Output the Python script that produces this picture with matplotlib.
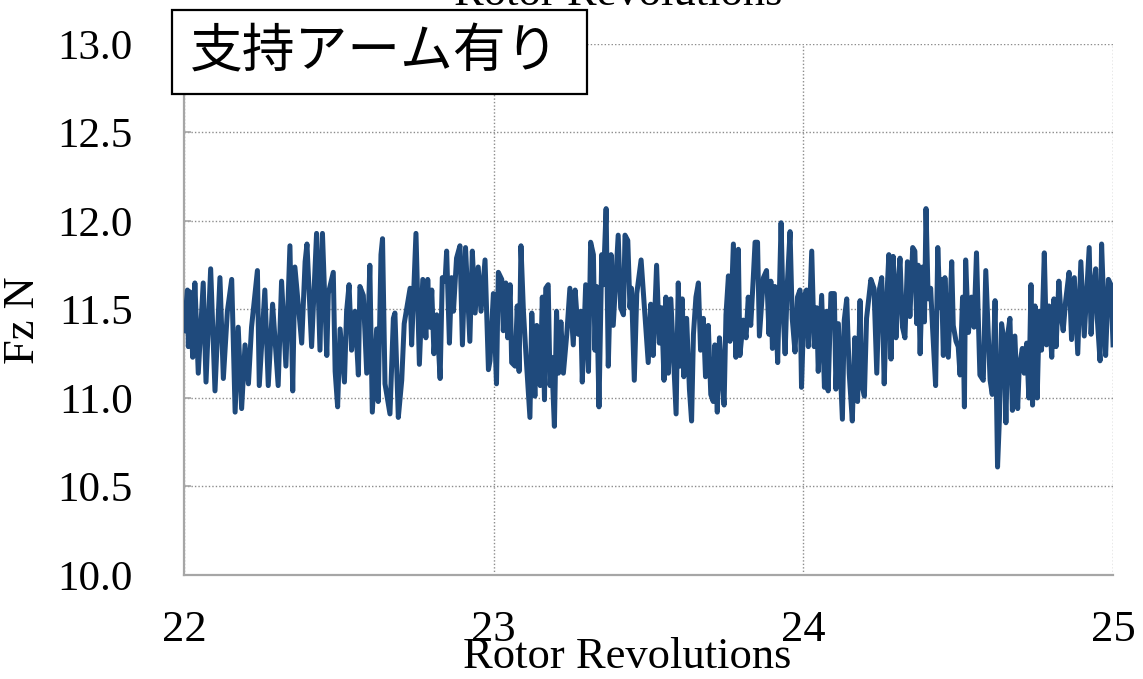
import numpy as np
import matplotlib
matplotlib.use("Agg")
import matplotlib.pyplot as plt
from matplotlib.patches import Rectangle

plt.rcParams['font.family'] = ['Liberation Serif', 'DejaVu Serif']

# Fz trace, split per revolution (rev, Fz [N])
rev_a = [22.000, 22.011, 22.014, 22.019, 22.028, 22.035, 22.046, 22.062, 22.071, 22.086,
         22.100, 22.116, 22.127, 22.140, 22.154, 22.165, 22.175, 22.186, 22.197, 22.208,
         22.218, 22.237, 22.243, 22.261, 22.272, 22.286, 22.304, 22.315, 22.329, 22.342,
         22.351, 22.358, 22.380, 22.391, 22.397, 22.412, 22.428, 22.439, 22.447, 22.461,
         22.466, 22.482, 22.488, 22.496, 22.504, 22.518, 22.525, 22.533, 22.541, 22.552,
         22.563, 22.568, 22.579, 22.590, 22.600, 22.608, 22.622, 22.627, 22.636, 22.641,
         22.649, 22.665, 22.676, 22.681, 22.692, 22.703, 22.711, 22.730, 22.735, 22.749,
         22.760, 22.771, 22.781, 22.787, 22.794, 22.800, 22.807, 22.816, 22.827, 22.834,
         22.843, 22.848, 22.857, 22.864, 22.870, 22.880, 22.891, 22.899, 22.909, 22.923,
         22.931, 22.940, 22.950, 22.959, 22.972, 22.983, 22.988, 22.999]
fz_a = [11.38, 11.61, 11.29, 11.60, 11.23, 11.65, 11.14, 11.65, 11.09, 11.73,
        11.04, 11.68, 11.11, 11.49, 11.67, 10.92, 11.40, 10.94, 11.30, 11.08,
        11.40, 11.72, 11.07, 11.61, 11.07, 11.53, 11.07, 11.66, 11.18, 11.86,
        11.04, 11.74, 11.31, 11.77, 11.87, 11.29, 11.93, 11.27, 11.93, 11.24,
        11.59, 11.71, 11.15, 10.95, 11.39, 11.09, 11.49, 11.64, 11.27, 11.49,
        11.13, 11.63, 11.58, 11.14, 11.75, 10.92, 11.39, 10.98, 11.81, 11.90,
        11.08, 10.91, 11.45, 11.48, 10.89, 11.10, 11.42, 11.62, 11.30, 11.93,
        11.19, 11.67, 11.34, 11.67, 11.40, 11.61, 11.25, 11.47, 11.11, 11.68,
        11.66, 11.83, 11.31, 11.68, 11.49, 11.79, 11.86, 11.30, 11.85, 11.32,
        11.83, 11.48, 11.74, 11.49, 11.78, 11.16, 11.21, 11.59]

rev_b = [23.009, 23.015, 23.026, 23.031, 23.039, 23.045, 23.053, 23.058, 23.069, 23.076,
         23.082, 23.088, 23.096, 23.104, 23.117, 23.123, 23.133, 23.139, 23.150, 23.157,
         23.164, 23.168, 23.176, 23.182, 23.187, 23.196, 23.203, 23.209, 23.217, 23.225,
         23.236, 23.246, 23.257, 23.263, 23.273, 23.281, 23.286, 23.297, 23.306, 23.313,
         23.322, 23.327, 23.332, 23.340, 23.349, 23.354, 23.363, 23.370, 23.379, 23.386,
         23.394, 23.402, 23.410, 23.419, 23.424, 23.433, 23.440, 23.445, 23.454, 23.462,
         23.476, 23.499, 23.507, 23.515, 23.526, 23.535, 23.542, 23.550, 23.556, 23.564,
         23.572, 23.580, 23.589, 23.596, 23.602, 23.609, 23.614, 23.623, 23.632, 23.639,
         23.645, 23.653, 23.661, 23.668, 23.677, 23.684, 23.693, 23.701, 23.709, 23.714,
         23.722, 23.729, 23.736, 23.744, 23.750, 23.758, 23.763, 23.774, 23.782, 23.790,
         23.795, 23.806, 23.815, 23.822, 23.830, 23.838, 23.844, 23.852, 23.858, 23.871,
         23.881, 23.889, 23.895, 23.900, 23.908, 23.917, 23.928, 23.935, 23.941, 23.948,
         23.957, 23.964, 23.973, 23.981, 23.989, 23.994]
fz_b = [11.08, 11.71, 11.67, 11.38, 11.65, 11.34, 11.64, 11.20, 11.18, 11.52,
        11.15, 11.86, 11.49, 11.25, 10.89, 11.48, 11.01, 11.41, 11.07, 11.57,
        10.99, 11.62, 11.64, 11.07, 11.23, 10.84, 11.49, 11.14, 11.43, 11.14,
        11.36, 11.62, 11.30, 11.61, 11.36, 11.49, 11.09, 11.64, 11.15, 11.88,
        11.81, 11.27, 11.63, 10.95, 11.81, 11.64, 12.07, 11.18, 11.81, 11.41,
        11.66, 11.92, 11.51, 11.47, 11.92, 11.89, 11.51, 11.62, 11.10, 11.59,
        11.78, 11.20, 11.53, 11.24, 11.75, 11.31, 11.51, 11.10, 11.57, 11.14,
        11.56, 11.25, 10.91, 11.65, 11.18, 11.56, 11.12, 11.45, 11.05, 10.87,
        11.36, 11.57, 11.65, 11.27, 11.45, 11.12, 11.41, 11.02, 10.98, 11.30,
        10.92, 11.34, 11.14, 10.96, 11.47, 11.69, 11.32, 11.87, 11.23, 11.84,
        11.24, 11.44, 11.34, 11.57, 11.41, 11.67, 11.88, 11.88, 11.35, 11.68,
        11.72, 11.36, 11.66, 11.28, 11.63, 11.20, 11.99, 11.47, 11.25, 11.64,
        11.94, 11.45, 11.26, 11.57, 11.61, 11.06]

rev_c = [24.003, 24.010, 24.016, 24.027, 24.035, 24.043, 24.048, 24.059, 24.068, 24.075,
         24.080, 24.089, 24.100, 24.105, 24.113, 24.126, 24.132, 24.140, 24.148, 24.158,
         24.166, 24.175, 24.183, 24.188, 24.197, 24.204, 24.218, 24.228, 24.237, 24.245,
         24.253, 24.261, 24.269, 24.276, 24.283, 24.290, 24.299, 24.307, 24.312, 24.320,
         24.328, 24.336, 24.344, 24.353, 24.360, 24.366, 24.371, 24.377, 24.385, 24.391,
         24.396, 24.403, 24.411, 24.417, 24.427, 24.434, 24.441, 24.446, 24.452, 24.457,
         24.468, 24.479, 24.484, 24.493, 24.500, 24.506, 24.514, 24.520, 24.524, 24.533,
         24.543, 24.551, 24.559, 24.570, 24.581, 24.589, 24.603, 24.610, 24.619, 24.627,
         24.633, 24.640, 24.648, 24.654, 24.660, 24.667, 24.675, 24.683, 24.692, 24.697,
         24.707, 24.713, 24.721, 24.728, 24.735, 24.740, 24.748, 24.755, 24.762, 24.769,
         24.778, 24.785, 24.793, 24.802, 24.809, 24.816, 24.825, 24.832, 24.839, 24.847,
         24.858, 24.866, 24.875, 24.886, 24.896, 24.907, 24.915, 24.923, 24.929, 24.936,
         24.944, 24.949, 24.958, 24.963, 24.972, 24.976, 24.985, 24.993, 25.000]
fz_c = [11.58, 11.61, 11.29, 11.83, 11.29, 11.51, 11.15, 11.58, 11.06, 11.49,
        11.04, 11.59, 11.59, 11.05, 11.42, 10.88, 11.44, 11.56, 11.14, 10.87,
        11.34, 10.98, 11.55, 11.08, 11.01, 11.45, 11.67, 11.62, 11.14, 11.61,
        11.68, 11.08, 11.55, 11.81, 11.22, 11.80, 11.34, 11.67, 11.79, 11.40,
        11.34, 11.77, 11.46, 11.85, 11.83, 11.42, 11.75, 11.25, 11.74, 11.43,
        12.07, 11.56, 11.62, 11.40, 11.07, 11.85, 11.51, 11.67, 11.24, 11.68,
        11.23, 11.77, 11.41, 11.32, 11.29, 11.13, 11.57, 10.95, 11.78, 11.37,
        11.57, 11.40, 11.82, 11.13, 11.10, 11.72, 11.10, 11.02, 11.55, 10.61,
        10.88, 11.42, 11.32, 10.86, 11.36, 11.45, 10.93, 11.35, 10.94, 11.17,
        11.28, 11.14, 11.31, 11.00, 11.64, 10.96, 11.52, 11.00, 11.49, 11.27,
        11.82, 11.30, 11.52, 11.23, 11.56, 11.29, 11.66, 11.47, 11.38, 11.55,
        11.71, 11.33, 11.68, 11.25, 11.77, 11.35, 11.60, 11.85, 11.36, 11.62,
        11.73, 11.45, 11.21, 11.87, 11.42, 11.24, 11.67, 11.64, 11.30]

revs = np.array(rev_a + rev_b + rev_c)
fz = np.array(fz_a + fz_b + fz_c)

x_ticks = [22, 23, 24, 25]
y_ticks = [10.0, 10.5, 11.0, 11.5, 12.0, 12.5, 13.0]
line_color = '#1f4a7c'
axis_gray = '#a6a6a6'

fig = plt.figure(figsize=(11.43, 6.79), dpi=100)
ax = fig.add_axes([0.161, 0.1532, 0.8128, 0.782])

ax.plot(revs, fz, color=line_color, linewidth=3.6, solid_joinstyle='round', zorder=3)

ax.set_xlim(22, 25)
ax.set_ylim(10.0, 13.0)
ax.set_xticks(x_ticks)
ax.set_yticks(y_ticks)
ax.set_yticklabels([f'{v:.1f}' for v in y_ticks])

ax.grid(True, color='#8c8c8c', linestyle=(0, (1, 1.5)), linewidth=1.0, zorder=1)
for side in ('top', 'right'):
    ax.spines[side].set_visible(False)
for side in ('left', 'bottom'):
    ax.spines[side].set_color(axis_gray)
    ax.spines[side].set_linewidth(1.6)

ax.tick_params(axis='y', direction='in', length=5, width=1.2, color=axis_gray,
               labelsize=31, pad=37)
ax.tick_params(axis='x', length=0, labelsize=32, pad=25)

ax.set_xlabel('Rotor Revolutions', fontsize=32, va='baseline')
ax.xaxis.set_label_coords(0.477, -0.175)
ax.set_ylabel('Fz N', fontsize=32, va='center')
ax.yaxis.set_label_coords(-0.173, 0.48)

# label of the panel above, cut off at the top edge
fig.text(0.541, 1 - 5 / 679, 'Rotor Revolutions', fontsize=32,
         ha='center', va='baseline')

# condition label box
fig.patches.append(Rectangle((0.1505, 0.861), 0.3631, 0.1245, transform=fig.transFigure,
                             facecolor='white', edgecolor='black', linewidth=1.6, zorder=5))
fig.text(0.328, 0.923, '支持アーム有り', fontsize=38, ha='center', va='center',
         family=['Noto Sans CJK JP', 'DejaVu Sans'], zorder=6)

fig.savefig('out.png', dpi=100)
